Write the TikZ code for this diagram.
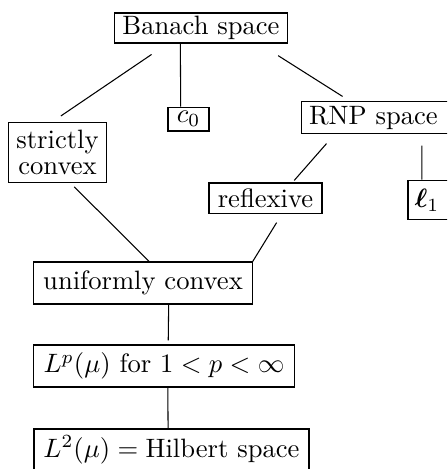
\documentclass[tikz,border=0pt]{standalone}
\usepackage{amsmath}
\usepackage{amssymb}
\usepackage{bm}
\usepackage{tikz}
\usetikzlibrary{positioning}

\begin{document}
\begin{tikzpicture}[x=0.376pt,y=-0.376pt,
  box/.style={draw,inner sep=0pt,align=center}]
\useasboundingbox (0,0) rectangle (447,469);
\clip (0,0) rectangle (447,469);
% Top node
\node[box,minimum width=64.7pt,minimum height=11.3pt] (banach) at (201,28) {Banach space};
% Second row
\node[box,minimum width=37.2pt,minimum height=22.6pt] (strict) at (57.5,152.5) {strictly\\[-2pt]convex};
\node[box,minimum width=15.4pt,minimum height=9pt] (czero) at (188.5,119) {$c_0$};
\node[box,minimum width=60.2pt,minimum height=11.7pt] (rnp) at (382,117.5) {\hspace*{-6.4pt}RNP space};
% Third row
\node[box,minimum width=23.3pt,minimum height=15pt] (ellone) at (439,200) {\hspace*{-9pt}$\bm{\ell}_1$};
\node[box,minimum width=42.5pt,minimum height=11.3pt] (reflex) at (265.5,198) {reflexive};
% Bottom chain
\node[box,minimum width=82pt,minimum height=15.8pt] (unif) at (143,283) {uniformly convex};
\node[box,minimum width=97.8pt,minimum height=15.8pt] (lp) at (164,366) {$L^p(\mu)$ for $1<p<\infty$};
\node[box,minimum width=103.4pt,minimum height=15.8pt] (ltwo) at (171.5,450) {$L^2(\mu)=\text{Hilbert space}$};
% Connectors
\draw[shorten <=7.3pt,shorten >=4pt] (banach.205) -- (strict.100);
\draw (banach.217) -- (czero.122);
\draw[shorten <=8.5pt,shorten >=3.5pt] (banach.345) -- (rnp.153.4);
\draw[shorten <=5pt,shorten >=1pt] (rnp.199) -- (reflex.30.5);
\draw[shorten <=4.5pt] (rnp.338.8) -- (ellone.130.4);
\draw[shorten <=2pt] (strict.293) -- (unif.74);
\draw[shorten <=4pt] (reflex.317.7) -- (unif.11.3);
\draw[shorten >=1.5pt] (unif.320) -- (lp.79.2);
\draw (lp.280.8) -- (ltwo.99);
\end{tikzpicture}
\end{document}
